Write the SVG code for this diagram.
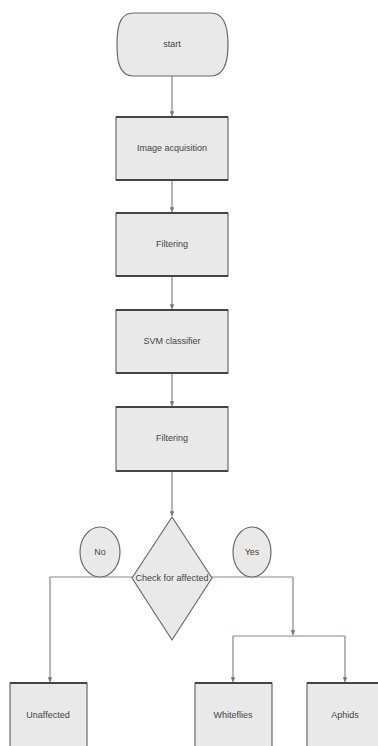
<svg xmlns="http://www.w3.org/2000/svg" width="378" height="746" viewBox="0 0 378 746">
<style>
.box{fill:#e9e9e9;stroke:#6a6a6a;stroke-width:1.2}
.edge{stroke:#444;stroke-width:2.2}
.t{font-family:"Liberation Sans",Arial,sans-serif;font-size:9px;fill:#444;text-anchor:middle;dominant-baseline:central}
.c{fill:none;stroke:#7d8893;stroke-width:1.2}
</style>
<defs>
<marker id="a" viewBox="0 0 6 6" refX="6" refY="3" markerWidth="4" markerHeight="4" orient="auto"><path d="M0,0L6,3L0,6z" fill="#6d7780"/></marker>
</defs>
<rect width="378" height="746" fill="#fff"/>
<g id="connectors">
<path class="c" d="M172,76V116" marker-end="url(#a)"/>
<path class="c" d="M172,180V212" marker-end="url(#a)"/>
<path class="c" d="M172,276V309" marker-end="url(#a)"/>
<path class="c" d="M172,373V406" marker-end="url(#a)"/>
<path class="c" d="M172,471V516" marker-end="url(#a)"/>
<path class="c" d="M50,577H293"/>
<path class="c" d="M50,577V682" marker-end="url(#a)"/>
<path class="c" d="M293,577V635" marker-end="url(#a)"/>
<path class="c" d="M233,636H345"/>
<path class="c" d="M233,636V682" marker-end="url(#a)"/>
<path class="c" d="M345,636V682" marker-end="url(#a)"/>
</g>
<g id="start">
<path class="box" d="M133,13H211C226,13 228,31 228,44.5C228,58 226,76 211,76H133C118,76 117,58 117,44.5C117,31 118,13 133,13Z"/>
<text class="t" x="172" y="44">start</text>
</g>
<g id="acq">
<rect class="box" x="116" y="117" width="112" height="63"/>
<path class="edge" d="M116,117H228M116,180H228"/>
<text class="t" x="172" y="148">Image acquisition</text>
</g>
<g id="filter1">
<rect class="box" x="116" y="213" width="112" height="63"/>
<path class="edge" d="M116,213H228M116,276H228"/>
<text class="t" x="172" y="244">Filtering</text>
</g>
<g id="svm">
<rect class="box" x="116" y="310" width="112" height="63"/>
<path class="edge" d="M116,310H228M116,373H228"/>
<text class="t" x="172" y="341">SVM classifier</text>
</g>
<g id="filter2">
<rect class="box" x="116" y="407" width="112" height="64"/>
<path class="edge" d="M116,407H228M116,471H228"/>
<text class="t" x="172" y="438">Filtering</text>
</g>
<g id="check">
<path class="box" d="M172,517L212,578L172,640L132,578Z"/>
<text class="t" x="172" y="578">Check for affected</text>
</g>
<g id="no">
<ellipse class="box" cx="100" cy="552" rx="20" ry="25"/>
<text class="t" x="100" y="552">No</text>
</g>
<g id="yes">
<ellipse class="box" cx="252" cy="552" rx="19" ry="25"/>
<text class="t" x="252" y="552">Yes</text>
</g>
<g id="unaffected">
<rect class="box" x="10" y="683" width="77" height="70"/>
<path class="edge" d="M10,683H87"/>
<text class="t" x="48" y="715">Unaffected</text>
</g>
<g id="whiteflies">
<rect class="box" x="195" y="683" width="77" height="70"/>
<path class="edge" d="M195,683H272"/>
<text class="t" x="233" y="715">Whiteflies</text>
</g>
<g id="aphids">
<rect class="box" x="307" y="683" width="72" height="70"/>
<path class="edge" d="M307,683H379"/>
<text class="t" x="345" y="715">Aphids</text>
</g>
</svg>
